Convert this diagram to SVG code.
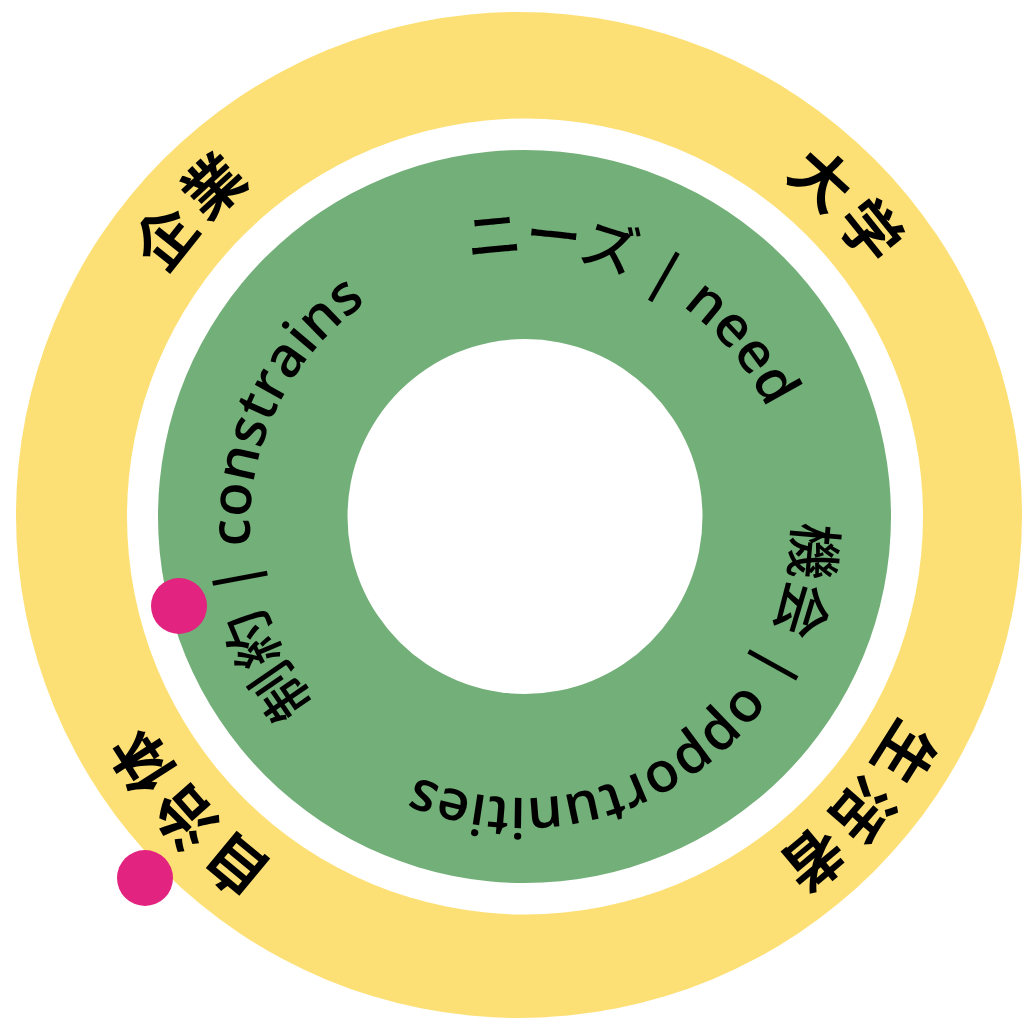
<svg xmlns="http://www.w3.org/2000/svg" xmlns:xlink="http://www.w3.org/1999/xlink" width="1023" height="1019" viewBox="0 0 1023 1019">
  <style>
    .outer { font-family: "Noto Sans CJK JP", "Noto Sans", sans-serif; font-weight: 700; font-size: 60px; letter-spacing: 7px; fill: #000; }
    .inner { font-family: "Open Sans", "Noto Sans CJK JP", sans-serif; font-weight: 600; font-size: 56px; fill: #000; }
    .jp { font-family: "Noto Sans CJK JP", sans-serif; font-weight: 500; }
    .dot { fill: #E2237F; }
  </style>
  <defs>
    <path id="arcOuter" d="M 92,516 A 429 429 0 0 1 950,516"/>
    <path id="arcInner" d="M 250,526 A 272 272 0 0 1 794,526"/>
  </defs>
  <rect width="1023" height="1019" fill="#ffffff"/>
  <g id="rings">
    <circle cx="519" cy="515" r="503" fill="#FDE075"/>
    <circle cx="525" cy="516.5" r="398" fill="#ffffff"/>
    <circle cx="524.5" cy="516.5" r="366.5" fill="#73AF78"/>
    <circle cx="525" cy="516.5" r="177.5" fill="#ffffff"/>
  </g>
  <g id="outer-labels">
    <g id="kigyo"><text class="outer" transform="rotate(-47 521 516)"><textPath href="#arcOuter" xlink:href="#arcOuter" startOffset="50%" text-anchor="middle">企業</textPath></text></g>
    <g id="daigaku"><text class="outer" transform="rotate(46.7 521 516)"><textPath href="#arcOuter" xlink:href="#arcOuter" startOffset="50%" text-anchor="middle">大学</textPath></text></g>
    <g id="seikatsusha"><text class="outer" transform="rotate(131.1 521 516)"><textPath href="#arcOuter" xlink:href="#arcOuter" startOffset="50%" text-anchor="middle">生活者</textPath></text></g>
    <g id="jichitai"><text class="outer" transform="rotate(228.5 521 516)"><textPath href="#arcOuter" xlink:href="#arcOuter" startOffset="50%" text-anchor="middle">自治体</textPath></text></g>
  </g>
  <g id="inner-labels">
    <g id="need"><text class="inner" transform="rotate(26.5 522 526)"><textPath href="#arcInner" xlink:href="#arcInner" startOffset="50%" text-anchor="middle"><tspan class="jp">ニーズ</tspan> | need</textPath></text></g>
    <g id="opportunities"><text class="inner" transform="rotate(146 522 526)"><textPath href="#arcInner" xlink:href="#arcInner" startOffset="50%" text-anchor="middle"><tspan class="jp">機会</tspan> | opportunities</textPath></text></g>
    <g id="constrains"><text class="inner" transform="rotate(277.4 522 526)"><textPath href="#arcInner" xlink:href="#arcInner" startOffset="50%" text-anchor="middle"><tspan class="jp">制約</tspan> | constrains</textPath></text></g>
  </g>
  <g id="markers">
    <circle class="dot" cx="179" cy="606" r="28"/>
    <circle class="dot" cx="145" cy="878" r="28"/>
  </g>
</svg>
